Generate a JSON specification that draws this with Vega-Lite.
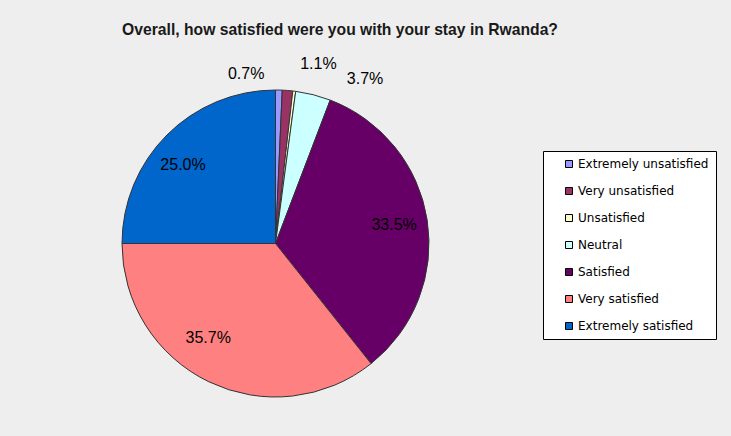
{
  "$schema": "https://vega.github.io/schema/vega-lite/v6.json",
  "width": 307,
  "height": 307,
  "autosize": {"type": "none"},
  "padding": {"left": 122, "top": 90, "right": 302, "bottom": 39},
  "background": "#eeeeee",
  "config": {"view": {"stroke": null}},
  "title": {
    "text": "Overall, how satisfied were you with your stay in Rwanda?",
    "font": "Liberation Sans",
    "fontSize": 15.7,
    "fontWeight": "bold",
    "color": "#1a1a1a",
    "anchor": "middle",
    "frame": "group",
    "dx": 64.5,
    "offset": 17
  },
  "data": {
    "values": [
      {"category": "Extremely unsatisfied", "value": 0.7, "label": "0.7%", "order": 1},
      {"category": "Very unsatisfied", "value": 1.1, "label": "1.1%", "order": 2},
      {"category": "Unsatisfied", "value": 0.3, "label": "0.3%", "order": 3},
      {"category": "Neutral", "value": 3.7, "label": "3.7%", "order": 4},
      {"category": "Satisfied", "value": 33.5, "label": "33.5%", "order": 5},
      {"category": "Very satisfied", "value": 35.7, "label": "35.7%", "order": 6},
      {"category": "Extremely satisfied", "value": 25.0, "label": "25.0%", "order": 7}
    ]
  },
  "encoding": {
    "theta": {"field": "value", "type": "quantitative", "stack": true},
    "order": {"field": "order", "type": "quantitative", "sort": "ascending"}
  },
  "layer": [
    {
      "mark": {"type": "arc", "stroke": "#333333", "strokeWidth": 1},
      "encoding": {
        "color": {
          "field": "category",
          "type": "nominal",
          "sort": ["Extremely unsatisfied", "Very unsatisfied", "Unsatisfied", "Neutral", "Satisfied", "Very satisfied", "Extremely satisfied"],
          "scale": {
            "domain": ["Extremely unsatisfied", "Very unsatisfied", "Unsatisfied", "Neutral", "Satisfied", "Very satisfied", "Extremely satisfied"],
            "range": ["#9999FF", "#993366", "#FFFFCC", "#CCFFFF", "#660066", "#FF8080", "#0066CC"]
          },
          "legend": {
            "orient": "none",
            "legendX": 421,
            "legendY": 61,
            "title": null,
            "fillColor": "#ffffff",
            "strokeColor": "#000000",
            "padding": 7,
            "symbolType": "square",
            "symbolSize": 49,
            "symbolStrokeColor": "#000000",
            "symbolStrokeWidth": 1,
            "symbolOpacity": 1,
            "symbolOffset": 13,
            "labelOffset": 3,
            "labelFont": "DejaVu Sans",
            "labelFontSize": 12,
            "labelColor": "#000000",
            "labelLimit": 300,
            "rowPadding": 15
          }
        }
      }
    },
    {
      "mark": {"type": "text", "radius": 118, "dx": -9, "dy": 5, "font": "Liberation Sans", "fontSize": 16, "color": "#000000"},
      "encoding": {"text": {"condition": {"test": "datum.category === 'Extremely satisfied'", "field": "label"}, "value": ""}}
    },
    {
      "mark": {"type": "text", "radius": 118, "dx": -16, "dy": -12, "font": "Liberation Sans", "fontSize": 16, "color": "#000000"},
      "encoding": {"text": {"condition": {"test": "datum.category === 'Very satisfied'", "field": "label"}, "value": ""}}
    },
    {
      "mark": {"type": "text", "radius": 118, "dx": 2, "dy": 0, "font": "Liberation Sans", "fontSize": 16, "color": "#000000"},
      "encoding": {"text": {"condition": {"test": "datum.category === 'Satisfied'", "field": "label"}, "value": ""}}
    },
    {
      "mark": {"type": "text", "radius": 165, "dx": -33, "dy": -5, "font": "Liberation Sans", "fontSize": 16, "color": "#000000"},
      "encoding": {"text": {"condition": {"test": "datum.category === 'Extremely unsatisfied'", "field": "label"}, "value": ""}}
    },
    {
      "mark": {"type": "text", "radius": 165, "dx": 30, "dy": -15, "font": "Liberation Sans", "fontSize": 16, "color": "#000000"},
      "encoding": {"text": {"condition": {"test": "datum.category === 'Very unsatisfied'", "field": "label"}, "value": ""}}
    },
    {
      "mark": {"type": "text", "radius": 165, "dx": 49, "dy": -5, "font": "Liberation Sans", "fontSize": 16, "color": "#000000"},
      "encoding": {"text": {"condition": {"test": "datum.category === 'Neutral'", "field": "label"}, "value": ""}}
    }
  ]
}
